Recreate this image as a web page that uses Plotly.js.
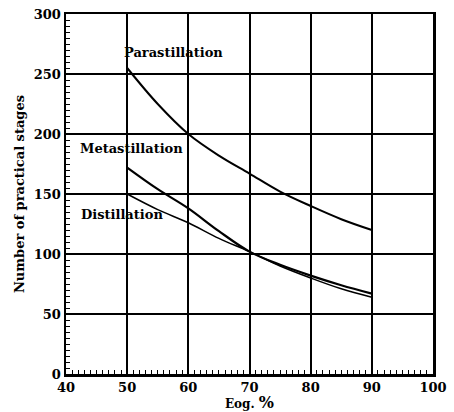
<!DOCTYPE html>
<html>
<head>
<meta charset="utf-8">
<script src="https://cdn.plot.ly/plotly-3.0.1.min.js"></script>
<style>html,body{margin:0;padding:0;background:#fff;}#chart{width:454px;height:412px;}</style>
</head>
<body>
<div id="chart"></div>
<script>
const eog = [50, 55, 60, 65, 70, 75, 80, 85, 90];
const parastillation = [255, 225, 200, 182, 167, 152, 140, 129, 120];
const metastillation = [172, 154, 138, 119, 102, 91, 82, 74, 67];
const distillation = [150, 137, 126, 113, 102, 90, 80, 71, 64];
const xTicks = [40, 50, 60, 70, 80, 90, 100];
const yTicks = [0, 50, 100, 150, 200, 250, 300];
const seriesNames = ['Parastillation', 'Metastillation', 'Distillation'];

const fontFam = '"DejaVu Serif", "Liberation Serif", serif';
const mk = (y, w) => ({x: eog, y: y, mode: 'lines', line: {color: '#000', width: w, shape: 'spline'}, showlegend: false, hoverinfo: 'skip'});
const data = [mk(parastillation, 2), mk(metastillation, 2.2), mk(distillation, 1.5)];

const labelPos = [[57.5, 268], [50.7, 188], [49.1, 133]];
const annotations = seriesNames.map((n, i) => ({
  x: labelPos[i][0], y: labelPos[i][1], xref: 'x', yref: 'y', text: n, showarrow: false,
  font: {family: fontFam, size: 13, color: '#000', weight: 'bold'}
}));

const layout = {
  width: 454, height: 412,
  margin: {l: 66, r: 21, t: 14, b: 38},
  paper_bgcolor: '#fff', plot_bgcolor: '#fff',
  font: {family: fontFam, color: '#000'},
  xaxis: {
    range: [40, 100], tickvals: xTicks, ticktext: xTicks.map(String),
    showgrid: true, gridcolor: '#000', gridwidth: 2,
    showline: true, mirror: true, linecolor: '#000', linewidth: 2.5,
    ticks: 'inside', ticklen: 5, tickcolor: '#000',
    minor: {dtick: 1, ticks: 'inside', ticklen: 4, tickcolor: '#000', showgrid: false},
    zeroline: false,
    tickfont: {family: fontFam, size: 13, weight: 'bold'},
    title: {text: 'Eog. <span style="font-size:16px">%</span>', standoff: 2, font: {family: fontFam, size: 12, weight: 'bold'}}
  },
  yaxis: {
    range: [0, 300], tickvals: yTicks, ticktext: yTicks.map(String),
    showgrid: true, gridcolor: '#000', gridwidth: 2,
    showline: true, mirror: true, linecolor: '#000', linewidth: 2.5,
    ticks: 'inside', ticklen: 5, tickcolor: '#000',
    minor: {dtick: 5, ticks: 'inside', ticklen: 4, tickcolor: '#000', showgrid: false},
    zeroline: false,
    tickfont: {family: fontFam, size: 13, weight: 'bold'},
    title: {text: 'Number of practical stages', standoff: 6, font: {family: fontFam, size: 13, weight: 'bold'}}
  },
  annotations: annotations
};
Plotly.newPlot('chart', data, layout, {staticPlot: true, displayModeBar: false});
</script>
</body>
</html>
